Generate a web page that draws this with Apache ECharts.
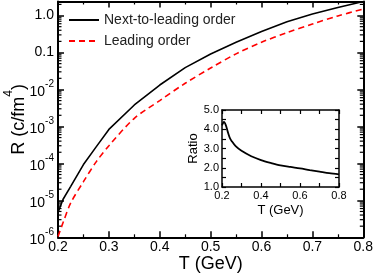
<!DOCTYPE html>
<html><head><meta charset="utf-8">
<script src="https://cdn.jsdelivr.net/npm/echarts@6/dist/echarts.min.js"></script>
<style>html,body{margin:0;padding:0;background:#fff}#c{width:374px;height:277px}</style>
</head><body><div id="c"></div>
<script>
// Temperature grid (GeV)
const T = [0.2, 0.21, 0.225, 0.25, 0.275, 0.3, 0.35, 0.4, 0.45, 0.5, 0.55, 0.6, 0.65, 0.7, 0.75, 0.8];
// R (c/fm^4), next-to-leading order
const nloR = [4.7e-6, 1.07e-5, 2.4e-5, 9.3e-5, 2.8e-4, 8.3e-4, 3.8e-3, 1.32e-2, 3.9e-2, 9.1e-2, 0.19, 0.37, 0.68, 1.10, 1.66, 2.4];
// R (c/fm^4), leading order
const loR = [1.05e-6, 2.5e-6, 8.5e-6, 3.2e-5, 1.1e-4, 3.0e-4, 1.66e-3, 5.0e-3, 1.47e-2, 3.8e-2, 9.2e-2, 0.19, 0.344, 0.59, 0.975, 1.5];
// Inset: ratio NLO / LO
const Tr = [0.2, 0.21, 0.22, 0.23, 0.24, 0.25, 0.27, 0.3, 0.35, 0.4, 0.45, 0.5, 0.55, 0.6, 0.65, 0.7, 0.75, 0.8];
const ratio = [4.2, 4.38, 4.2, 3.85, 3.55, 3.38, 3.12, 2.88, 2.6, 2.4, 2.25, 2.12, 2.04, 1.97, 1.88, 1.8, 1.72, 1.66];
// Axis settings
const yDecades = [-6, -5, -4, -3, -2, -1, 0];
const yMaxLog = 0.38;
const seriesNames = ['Next-to-leading order', 'Leading order'];

const FONT = 'Liberation Sans, Arial, Helvetica, sans-serif';
const lg = v => Math.log10(v);
const nloData = T.map((t, i) => [t, lg(nloR[i])]);
const loData = T.map((t, i) => [t, lg(loR[i])]);
const ratioData = Tr.map((t, i) => [t, ratio[i]]);
// log minor tick positions (2..9 x 10^n)
const minorY = [];
yDecades.forEach(n => { for (let k = 2; k <= 9; k++) { const v = n + Math.log10(k); if (v <= yMaxLog) minorY.push([0.2, v]); } });

function yLabel(v) {
  const r = Math.round(v);
  if (Math.abs(v - r) > 1e-6) return '';
  if (r === 0) return '{n|1.0}';
  if (r === -1) return '{n|0.1}';
  return '{b|10}{s|' + r + '}';
}
const tickLine = { lineStyle: { color: '#000', width: 1.5 } };
const axLine = { show: true, onZero: false, lineStyle: { color: '#000', width: 2 } };
const axLineI = { show: true, onZero: false, lineStyle: { color: '#000', width: 1.5 } };
const tickI = { show: true, inside: true, length: 4, lineStyle: { color: '#000', width: 1.2 } };
const minorI = { show: true, splitNumber: 2, length: 4, lineStyle: { color: '#000', width: 1.2 } };

const chart = echarts.init(document.getElementById('c'), null, { renderer: 'canvas' });
chart.setOption({
  animation: false,
  textStyle: { fontFamily: FONT },
  grid: [
    { left: 58, top: 1.5, width: 305.3, height: 235.8, containLabel: false, outerBoundsMode: 'none' },
    { left: 222, top: 110, width: 117, height: 77, containLabel: false, outerBoundsMode: 'none' }
  ],
  legend: {
    data: seriesNames, orient: 'vertical', left: 63, top: 8, itemWidth: 30, itemHeight: 10, itemGap: 7,
    itemStyle: { opacity: 0 },
    textStyle: { fontSize: 14, color: '#222', fontFamily: FONT }
  },
  xAxis: [
    { gridIndex: 0, type: 'value', position: 'bottom', min: 0.2, max: 0.8, interval: 0.1,
      axisLine: axLine, splitLine: { show: false },
      axisTick: { show: true, inside: true, length: 6, ...tickLine },
      minorTick: { show: true, splitNumber: 2, length: 3, lineStyle: { color: '#000', width: 1.2 } },
      axisLabel: { fontSize: 14, color: '#000', margin: 3, formatter: v => v.toFixed(1) },
      name: 'T (GeV)', nameLocation: 'middle', nameGap: 18, nameMoveOverlap: false,
      nameTextStyle: { fontSize: 18, color: '#000' } },
    { gridIndex: 0, type: 'value', position: 'top', min: 0.2, max: 0.8, interval: 0.1,
      axisLine: axLine, splitLine: { show: false },
      axisTick: { show: true, inside: true, length: 6, ...tickLine },
      minorTick: { show: true, splitNumber: 2, length: 3, lineStyle: { color: '#000', width: 1.2 } },
      axisLabel: { show: false } },
    { gridIndex: 1, type: 'value', position: 'bottom', min: 0.2, max: 0.8, interval: 0.2,
      axisLine: axLineI, splitLine: { show: false }, axisTick: tickI, minorTick: minorI,
      axisLabel: { fontSize: 11, color: '#000', margin: 3, formatter: v => v.toFixed(1) },
      name: 'T (GeV)', nameLocation: 'middle', nameGap: 17, nameMoveOverlap: false,
      nameTextStyle: { fontSize: 13, color: '#000' } },
    { gridIndex: 1, type: 'value', position: 'top', min: 0.2, max: 0.8, interval: 0.2,
      axisLine: axLineI, splitLine: { show: false }, axisTick: tickI, minorTick: minorI,
      axisLabel: { show: false } }
  ],
  yAxis: [
    { gridIndex: 0, type: 'value', position: 'left', min: -6, max: yMaxLog, interval: 1,
      axisLine: axLine, splitLine: { show: false },
      axisTick: { show: true, inside: true, length: 6, ...tickLine },
      axisLabel: { margin: 4, color: '#000', formatter: yLabel, showMaxLabel: false,
        rich: {
          n: { fontSize: 14, fontFamily: FONT, color: '#000' },
          b: { fontSize: 14, lineHeight: 14, padding: [6, 0, 0, 0], fontFamily: FONT, color: '#000' },
          s: { fontSize: 10, lineHeight: 10, padding: [0, 0, 10, 0], fontFamily: FONT, color: '#000' }
        } },
      name: '{n|R (c/fm}{s|4}{n|)}', nameLocation: 'middle', nameGap: 30, nameMoveOverlap: false,
      nameTextStyle: { color: '#000', rich: {
        n: { fontSize: 18, lineHeight: 18, fontFamily: FONT, color: '#000' },
        s: { fontSize: 12, lineHeight: 12, padding: [0, 0, 20, 0], fontFamily: FONT, color: '#000' }
      } } },
    { gridIndex: 0, type: 'value', position: 'right', min: -6, max: yMaxLog, interval: 1,
      axisLine: axLine, splitLine: { show: false },
      axisTick: { show: true, inside: true, length: 6, ...tickLine },
      axisLabel: { show: false } },
    { gridIndex: 1, type: 'value', position: 'left', min: 1, max: 5, interval: 1,
      axisLine: axLineI, splitLine: { show: false }, axisTick: tickI, minorTick: minorI,
      axisLabel: { fontSize: 11, color: '#000', margin: 3, formatter: v => v.toFixed(1) },
      name: 'Ratio', nameLocation: 'middle', nameGap: 22, nameMoveOverlap: false,
      nameTextStyle: { fontSize: 13, color: '#000' } },
    { gridIndex: 1, type: 'value', position: 'right', min: 1, max: 5, interval: 1,
      axisLine: axLineI, splitLine: { show: false }, axisTick: tickI, minorTick: minorI,
      axisLabel: { show: false } }
  ],
  series: [
    { name: seriesNames[0], type: 'line', xAxisIndex: 0, yAxisIndex: 0, data: nloData,
      showSymbol: false, symbol: 'none', lineStyle: { color: '#000', width: 1.6 }, itemStyle: { color: '#000' } },
    { name: seriesNames[1], type: 'line', xAxisIndex: 0, yAxisIndex: 0, data: loData, smooth: 0.3,
      showSymbol: false, symbol: 'none', lineStyle: { color: '#ff0000', width: 1.6, type: [6, 4] }, itemStyle: { color: '#ff0000' } },
    { name: 'ratio', type: 'line', xAxisIndex: 2, yAxisIndex: 2, data: ratioData, smooth: 0.3,
      showSymbol: false, symbol: 'none', lineStyle: { color: '#000', width: 1.8 } },
    { name: 'minor', type: 'custom', xAxisIndex: 0, yAxisIndex: 0, data: minorY, silent: true, clip: false,
      renderItem: (params, api) => {
        const y = api.coord([0.2, api.value(1)])[1];
        const cs = params.coordSys;
        const st = { stroke: '#000', lineWidth: 1.2 };
        return { type: 'group', children: [
          { type: 'line', shape: { x1: cs.x, y1: y, x2: cs.x + 3.5, y2: y }, style: st },
          { type: 'line', shape: { x1: cs.x + cs.width - 3.5, y1: y, x2: cs.x + cs.width, y2: y }, style: st }
        ] };
      } }
  ]
});
</script></body></html>
